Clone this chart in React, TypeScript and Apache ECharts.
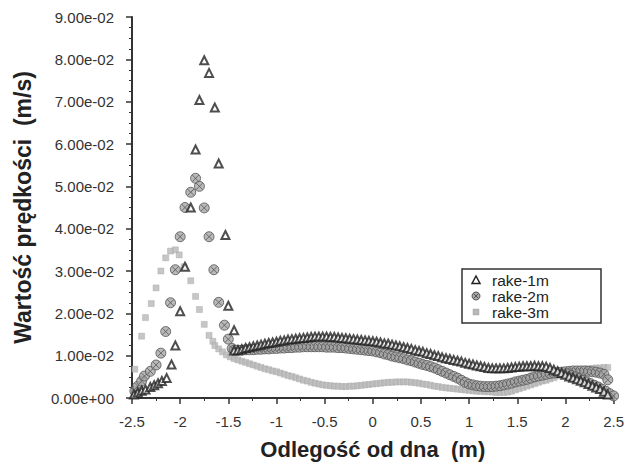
import React, { useEffect, useRef } from "react";
import * as echarts from "echarts";

// ---- tick labels / axis titles ----
const xTitle = "Odlegość od dna  (m)";
const yTitle = "Wartość prędkości  (m/s)";
const seriesNames = ["rake-1m", "rake-2m", "rake-3m"];

// ---- rake-1m (triangles) ----
const rake1Rise: number[][] = [
  [-2.48, 0.0008], [-2.44, 0.0013], [-2.40, 0.0017], [-2.36, 0.0020], [-2.31, 0.0026],
  [-2.27, 0.0030], [-2.23, 0.0035], [-2.19, 0.0040], [-2.14, 0.0047], [-2.09, 0.0079],
  [-2.05, 0.0124], [-2.00, 0.0205], [-1.95, 0.0310], [-1.89, 0.0450], [-1.84, 0.0587],
  [-1.80, 0.0704], [-1.75, 0.0798], [-1.70, 0.0768], [-1.64, 0.0686], [-1.60, 0.0554],
  [-1.53, 0.0385], [-1.50, 0.0218], [-1.44, 0.0160],
];
const rake1Band: number[][] = [
  [-1.44, 0.0112], [-1.40, 0.0113], [-1.36, 0.0115], [-1.32, 0.0118], [-1.28, 0.0120],
  [-1.24, 0.0122], [-1.20, 0.0124], [-1.16, 0.0126], [-1.12, 0.0128], [-1.08, 0.0130],
  [-1.04, 0.0131], [-1.00, 0.0133], [-0.96, 0.0135], [-0.92, 0.0136], [-0.88, 0.0138],
  [-0.84, 0.0139], [-0.80, 0.0140], [-0.76, 0.0141], [-0.72, 0.0142], [-0.68, 0.0143],
  [-0.64, 0.0144], [-0.60, 0.0145], [-0.56, 0.0145], [-0.52, 0.0145], [-0.48, 0.0145],
  [-0.44, 0.0144], [-0.40, 0.0144], [-0.36, 0.0143], [-0.32, 0.0142], [-0.28, 0.0141],
  [-0.24, 0.0140], [-0.20, 0.0139], [-0.16, 0.0138], [-0.12, 0.0137], [-0.08, 0.0136],
  [-0.04, 0.0135], [0.00, 0.0134], [0.04, 0.0133], [0.08, 0.0131], [0.12, 0.0129],
  [0.16, 0.0128], [0.20, 0.0126], [0.24, 0.0124], [0.28, 0.0122], [0.32, 0.0120],
  [0.36, 0.0118], [0.40, 0.0116], [0.44, 0.0113], [0.48, 0.0111], [0.52, 0.0109],
  [0.56, 0.0106], [0.60, 0.0104], [0.64, 0.0101], [0.68, 0.0099], [0.72, 0.0096],
  [0.76, 0.0094], [0.80, 0.0092], [0.84, 0.0090], [0.88, 0.0088], [0.92, 0.0086],
  [0.96, 0.0083], [1.00, 0.0081], [1.04, 0.0079], [1.08, 0.0077], [1.12, 0.0075],
  [1.16, 0.0073], [1.20, 0.0071], [1.24, 0.0070], [1.28, 0.0070], [1.32, 0.0070],
  [1.36, 0.0070], [1.40, 0.0071], [1.44, 0.0072], [1.48, 0.0073], [1.52, 0.0074],
  [1.56, 0.0075], [1.60, 0.0075], [1.64, 0.0075], [1.68, 0.0076], [1.72, 0.0075],
  [1.76, 0.0075], [1.80, 0.0074], [1.84, 0.0071], [1.88, 0.0067], [1.92, 0.0063],
  [1.96, 0.0059], [2.00, 0.0055], [2.04, 0.0051], [2.08, 0.0048], [2.12, 0.0044],
  [2.16, 0.0041], [2.20, 0.0037], [2.24, 0.0033], [2.28, 0.0029], [2.32, 0.0025],
  [2.36, 0.0021], [2.40, 0.0015], [2.44, 0.0008],
];

// ---- rake-2m (crossed circles) ----
const rake2Rise: number[][] = [
  [-2.47, 0.0016], [-2.44, 0.0028], [-2.40, 0.0040], [-2.37, 0.0052], [-2.31, 0.0063],
  [-2.25, 0.0078], [-2.20, 0.0106], [-2.15, 0.0157], [-2.10, 0.0225], [-2.05, 0.0303],
  [-2.00, 0.0381], [-1.95, 0.0450], [-1.89, 0.0486], [-1.84, 0.0519], [-1.80, 0.0500],
  [-1.75, 0.0449], [-1.70, 0.0381], [-1.65, 0.0303], [-1.60, 0.0226], [-1.54, 0.0172],
  [-1.50, 0.0139], [-1.46, 0.0117],
];
const rake2Band: number[][] = [
  [-1.44, 0.0113], [-1.40, 0.0113], [-1.36, 0.0113], [-1.32, 0.0114], [-1.28, 0.0114],
  [-1.24, 0.0114], [-1.20, 0.0115], [-1.16, 0.0115], [-1.12, 0.0116], [-1.08, 0.0116],
  [-1.04, 0.0117], [-1.00, 0.0117], [-0.96, 0.0118], [-0.92, 0.0118], [-0.88, 0.0119],
  [-0.84, 0.0119], [-0.80, 0.0120], [-0.76, 0.0120], [-0.72, 0.0121], [-0.68, 0.0121],
  [-0.64, 0.0121], [-0.60, 0.0121], [-0.56, 0.0121], [-0.52, 0.0121], [-0.48, 0.0120],
  [-0.44, 0.0120], [-0.40, 0.0120], [-0.36, 0.0119], [-0.32, 0.0119], [-0.28, 0.0118],
  [-0.24, 0.0117], [-0.20, 0.0116], [-0.16, 0.0115], [-0.12, 0.0114], [-0.08, 0.0113],
  [-0.04, 0.0112], [0.00, 0.0111], [0.04, 0.0109], [0.08, 0.0107], [0.12, 0.0104],
  [0.16, 0.0102], [0.20, 0.0099], [0.24, 0.0097], [0.28, 0.0095], [0.32, 0.0093],
  [0.36, 0.0090], [0.40, 0.0088], [0.44, 0.0085], [0.48, 0.0082], [0.52, 0.0079],
  [0.56, 0.0077], [0.60, 0.0074], [0.64, 0.0071], [0.68, 0.0067], [0.72, 0.0063],
  [0.76, 0.0059], [0.80, 0.0055], [0.84, 0.0051], [0.88, 0.0047], [0.92, 0.0042],
  [0.96, 0.0037], [1.00, 0.0033], [1.04, 0.0031], [1.08, 0.0029], [1.12, 0.0028],
  [1.16, 0.0027], [1.20, 0.0027], [1.24, 0.0027], [1.28, 0.0028], [1.32, 0.0029],
  [1.36, 0.0031], [1.40, 0.0033], [1.44, 0.0035], [1.48, 0.0038], [1.52, 0.0040],
  [1.56, 0.0042], [1.60, 0.0044], [1.64, 0.0047], [1.68, 0.0050], [1.72, 0.0052],
  [1.76, 0.0054], [1.80, 0.0056], [1.84, 0.0058], [1.88, 0.0059], [1.92, 0.0060],
  [1.96, 0.0061], [2.00, 0.0062], [2.04, 0.0063], [2.08, 0.0064], [2.12, 0.0064],
  [2.16, 0.0064], [2.20, 0.0064], [2.24, 0.0063], [2.28, 0.0062], [2.32, 0.0061],
  [2.36, 0.0059], [2.40, 0.0056], [2.44, 0.0043],
];
const rake2Tail: number[][] = [
  [2.02, 0.0057], [2.06, 0.0053], [2.10, 0.0050], [2.14, 0.0046], [2.18, 0.0042],
  [2.22, 0.0038], [2.26, 0.0034], [2.30, 0.0030], [2.34, 0.0026], [2.38, 0.0021],
  [2.42, 0.0016], [2.46, 0.0010], [2.50, 0.0005],
];

// ---- rake-3m (squares) ----
const rake3Rise: number[][] = [
  [-2.47, 0.0068], [-2.40, 0.0146], [-2.36, 0.0190], [-2.30, 0.0223], [-2.25, 0.0260],
  [-2.20, 0.0300], [-2.15, 0.0331], [-2.10, 0.0347], [-2.05, 0.0350], [-2.01, 0.0338],
  [-1.96, 0.0310], [-1.89, 0.0277], [-1.84, 0.0240], [-1.80, 0.0209], [-1.75, 0.0174],
  [-1.70, 0.0148], [-1.66, 0.0134],
];
const rake3Band: number[][] = [
  [-1.64, 0.0124], [-1.60, 0.0116], [-1.56, 0.0109], [-1.52, 0.0102], [-1.48, 0.0097],
  [-1.44, 0.0093], [-1.40, 0.0090], [-1.36, 0.0087], [-1.32, 0.0084], [-1.28, 0.0081],
  [-1.24, 0.0078], [-1.20, 0.0075], [-1.16, 0.0072], [-1.12, 0.0069], [-1.08, 0.0067],
  [-1.04, 0.0064], [-1.00, 0.0062], [-0.96, 0.0059], [-0.92, 0.0056], [-0.88, 0.0053],
  [-0.84, 0.0051], [-0.80, 0.0048], [-0.76, 0.0045], [-0.72, 0.0042], [-0.68, 0.0040],
  [-0.64, 0.0037], [-0.60, 0.0035], [-0.56, 0.0033], [-0.52, 0.0031], [-0.48, 0.0030],
  [-0.44, 0.0029], [-0.40, 0.0028], [-0.36, 0.0028], [-0.32, 0.0027], [-0.28, 0.0027],
  [-0.24, 0.0028], [-0.20, 0.0028], [-0.16, 0.0029], [-0.12, 0.0030], [-0.08, 0.0031],
  [-0.04, 0.0032], [0.00, 0.0033], [0.04, 0.0034], [0.08, 0.0035], [0.12, 0.0036],
  [0.16, 0.0037], [0.20, 0.0037], [0.24, 0.0038], [0.28, 0.0038], [0.32, 0.0038],
  [0.36, 0.0038], [0.40, 0.0037], [0.44, 0.0036], [0.48, 0.0035], [0.52, 0.0033],
  [0.56, 0.0032], [0.60, 0.0030], [0.64, 0.0028], [0.68, 0.0027], [0.72, 0.0025],
  [0.76, 0.0024], [0.80, 0.0023], [0.84, 0.0022], [0.88, 0.0021], [0.92, 0.0020],
  [0.96, 0.0019], [1.00, 0.0018], [1.04, 0.0017], [1.08, 0.0016], [1.12, 0.0016],
  [1.16, 0.0015], [1.20, 0.0015], [1.24, 0.0014], [1.28, 0.0013], [1.32, 0.0013],
  [1.36, 0.0013], [1.40, 0.0014], [1.44, 0.0016], [1.48, 0.0019], [1.52, 0.0022],
  [1.56, 0.0025], [1.60, 0.0028], [1.64, 0.0031], [1.68, 0.0034], [1.72, 0.0037],
  [1.76, 0.0040], [1.80, 0.0042], [1.84, 0.0045], [1.88, 0.0048], [1.92, 0.0052],
  [1.96, 0.0055], [2.00, 0.0058], [2.04, 0.0060], [2.08, 0.0063], [2.12, 0.0065],
  [2.16, 0.0067], [2.20, 0.0068], [2.24, 0.0069], [2.28, 0.0070], [2.32, 0.0071],
  [2.36, 0.0071], [2.40, 0.0072], [2.44, 0.0072],
];

const crossCircle =
  "path://M10,0A10,10,0,1,1,10,20A10,10,0,1,1,10,0ZM3.5,3.5L16.5,16.5M16.5,3.5L3.5,16.5";

function fmtExp(v: number): string {
  const s = Number(v).toExponential(2);
  return s.replace(/e([+-])(\d)$/, "e$10$2");
}

export default function App() {
  const ref = useRef<HTMLDivElement>(null);
  useEffect(() => {
    if (!ref.current) return;
    const chart = echarts.init(ref.current, undefined, { renderer: "svg" });
    const axisColor = "#333";
    const labelFont = "'Liberation Sans', Arial, sans-serif";
    const lgX = 462, lgY = 269, lgW = 139, lgH = 54;
    const iconX = 476, textX = 492;
    const rowY = [280, 296, 312];
    const legendText = (i: number) => ({
      type: "text",
      x: textX,
      y: rowY[i],
      style: {
        text: seriesNames[i],
        fill: "#222",
        font: `15.5px ${labelFont}`,
        textVerticalAlign: "middle",
        verticalAlign: "middle",
      },
    });
    chart.setOption({
      animation: false,
      backgroundColor: "#fff",
      grid: { left: 132, right: 9, top: 17, bottom: 65, containLabel: false },
      xAxis: {
        type: "value",
        min: -2.5,
        max: 2.5,
        interval: 0.5,
        name: xTitle,
        nameLocation: "middle",
        nameGap: 40,
        nameTextStyle: {
          fontFamily: labelFont,
          fontSize: 22,
          fontWeight: "bold",
          color: "#222",
        },
        axisLine: { onZero: false, lineStyle: { color: axisColor, width: 2 } },
        axisTick: { show: true, inside: false, length: 6, lineStyle: { color: axisColor, width: 1.5 } },
        minorTick: { show: true, splitNumber: 2, length: 3, lineStyle: { color: axisColor, width: 1 } },
        splitLine: { show: false },
        axisLabel: {
          margin: 16,
          fontFamily: labelFont,
          fontSize: 15,
          color: "#333",
        },
      },
      yAxis: {
        type: "value",
        min: 0,
        max: 0.09,
        interval: 0.01,
        name: yTitle,
        nameLocation: "middle",
        nameGap: 98,
        nameTextStyle: {
          fontFamily: labelFont,
          fontSize: 23,
          fontWeight: "bold",
          color: "#222",
        },
        axisLine: { show: true, onZero: false, lineStyle: { color: axisColor, width: 2 } },
        axisTick: { show: true, inside: false, length: 6, lineStyle: { color: axisColor, width: 1.5 } },
        minorTick: { show: true, splitNumber: 4, length: 3, lineStyle: { color: axisColor, width: 1 } },
        splitLine: { show: false },
        axisLabel: {
          margin: 18,
          fontFamily: labelFont,
          fontSize: 15,
          color: "#333",
          formatter: (v: number) => fmtExp(v),
        },
      },
      legend: { show: false },
      graphic: [
        {
          type: "group",
          z: 100,
          children: [
            {
              type: "rect",
              shape: { x: lgX, y: lgY, width: lgW, height: lgH },
              style: { fill: "#fff", stroke: "#333", lineWidth: 1.5 },
            },
            {
              type: "polygon",
              shape: {
                points: [
                  [iconX, rowY[0] - 4],
                  [iconX + 4, rowY[0] + 3.5],
                  [iconX - 4, rowY[0] + 3.5],
                ],
              },
              style: { fill: "#fff", stroke: "#222", lineWidth: 1.5 },
            },
            {
              type: "circle",
              shape: { cx: iconX, cy: rowY[1], r: 4 },
              style: { fill: "#a8a8a8", stroke: "#555", lineWidth: 1 },
            },
            {
              type: "line",
              shape: { x1: iconX - 2.7, y1: rowY[1] - 2.7, x2: iconX + 2.7, y2: rowY[1] + 2.7 },
              style: { stroke: "#555", lineWidth: 1 },
            },
            {
              type: "line",
              shape: { x1: iconX + 2.7, y1: rowY[1] - 2.7, x2: iconX - 2.7, y2: rowY[1] + 2.7 },
              style: { stroke: "#555", lineWidth: 1 },
            },
            {
              type: "rect",
              shape: { x: iconX - 3, y: rowY[2] - 3, width: 6, height: 6 },
              style: { fill: "#b8b8b8", stroke: "#a4a4a4", lineWidth: 0.5 },
            },
            legendText(0),
            legendText(1),
            legendText(2),
          ],
        },
      ],
      series: [
        {
          name: seriesNames[0],
          type: "scatter",
          z: 4,
          symbol: "emptyTriangle",
          symbolSize: 8,
          itemStyle: { color: "#222", borderColor: "#222", borderWidth: 1.5 },
          data: [...rake1Rise, ...rake1Band],
        },
        {
          name: seriesNames[1],
          type: "scatter",
          z: 3,
          symbol: crossCircle,
          symbolSize: 10,
          itemStyle: { color: "#a8a8a8", borderColor: "#555", borderWidth: 1 },
          data: [...rake2Rise, ...rake2Band, ...rake2Tail],
        },
        {
          name: seriesNames[2],
          type: "scatter",
          z: 2,
          symbol: "rect",
          symbolSize: 6,
          itemStyle: { color: "#b8b8b8", borderColor: "#a4a4a4", borderWidth: 0.5 },
          data: [...rake3Rise, ...rake3Band],
        },
      ],
    });
    return () => chart.dispose();
  }, []);
  return (
    <div
      ref={ref}
      style={{ position: "absolute", left: 0, top: 0, width: 627, height: 465 }}
    />
  );
}
